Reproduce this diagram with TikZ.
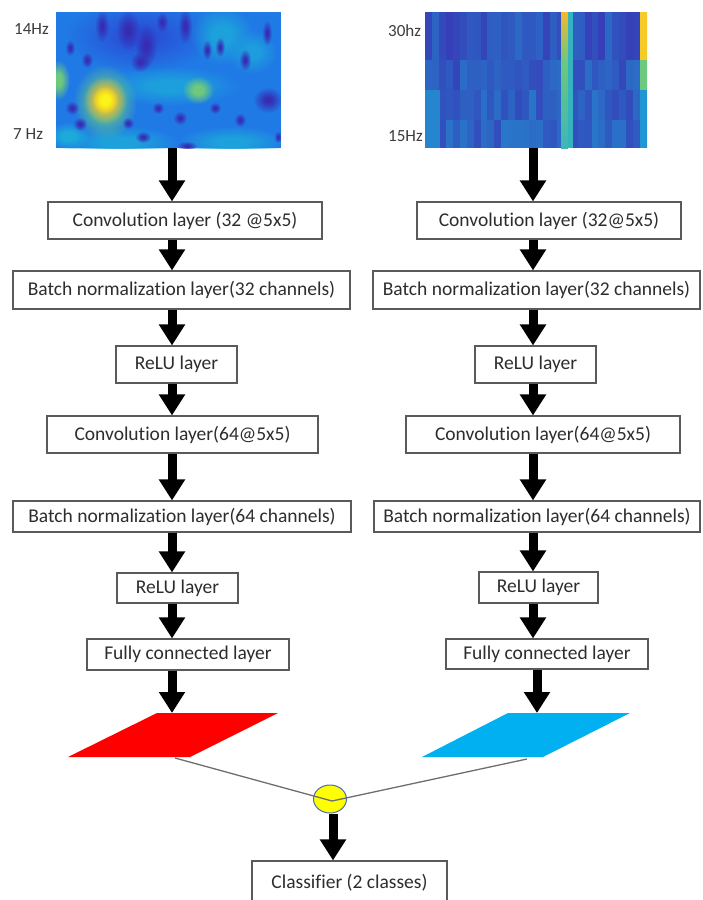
\documentclass[tikz,border=0pt]{standalone}
\usepackage{fontspec}
\setmainfont{Carlito}[Ligatures=NoCommon]
\usetikzlibrary{arrows.meta,shapes.geometric,fadings}
\definecolor{boxgray}{RGB}{90,90,90}
\definecolor{txt}{RGB}{45,45,45}
\definecolor{lbltxt}{RGB}{60,60,60}
\definecolor{sbase}{RGB}{32,122,230}
\definecolor{pdark}{RGB}{58,45,178}
\definecolor{pspot}{RGB}{55,45,180}
\definecolor{pmid}{RGB}{42,80,215}
\definecolor{pcyan}{RGB}{28,170,218}
\definecolor{pgreen}{RGB}{110,200,125}
\definecolor{porange}{RGB}{245,185,45}
\definecolor{pyellow}{RGB}{250,245,25}
\definecolor{fcred}{RGB}{255,0,0}
\definecolor{fcblue}{RGB}{0,176,240}
\definecolor{mixyellow}{RGB}{255,255,0}
\definecolor{mixedge}{RGB}{70,110,170}
\definecolor{linkgray}{RGB}{110,110,110}
\pgfdeclareradialshading{fzshade}{\pgfpointorigin}{color(0bp)=(white); color(8bp)=(white); color(25bp)=(black); color(50bp)=(black)}
\pgfdeclarefading{fuzzy}{\pgfuseshading{fzshade}}
\pgfdeclareradialshading{sfshade}{\pgfpointorigin}{color(0bp)=(white); color(5bp)=(white); color(25bp)=(black); color(50bp)=(black)}
\pgfdeclarefading{softfz}{\pgfuseshading{sfshade}}
\newcommand\blob[5]{\fill[#5, path fading=fuzzy] (#1,#2) ellipse [x radius=#3, y radius=#4];}
\newcommand\spot[5]{\fill[#5, path fading=softfz] (#1,#2) ellipse [x radius=#3, y radius=#4];}
\newcommand\boxfont{\fontsize{19.5}{22}\selectfont}
\newcommand\lblfont{\fontsize{17}{19}\selectfont}
\tikzset{
  layer/.style={draw=boxgray, line width=1.1pt, fill=white, inner sep=0pt, font=\boxfont, text=txt},
  bigarrow/.style={draw=black, line width=9pt, -{Triangle[width=25pt,length=21pt]}},
  freq/.style={font=\lblfont, text=lbltxt, inner sep=0pt},
  link/.style={draw=linkgray, line width=1.3pt}
}
\begin{document}
\begin{tikzpicture}[x=1pt,y=-1pt]
\useasboundingbox (0,0) rectangle (702,900);
% ---------- left spectrogram ----------
\node[inner sep=0pt, minimum width=225, minimum height=136] (imgL) at (168.5,80) {};
\begin{scope}
\clip (56,12) rectangle (281,148);
\fill[sbase] (56,12) rectangle (281,148);
\spot{140}{36}{75}{36}{pmid}
\blob{222}{35}{32}{30}{pcyan!80!sbase}
\blob{252}{52}{25}{22}{pcyan!70!sbase}
\blob{170}{86}{70}{20}{pcyan!75!sbase}
\blob{120}{142}{60}{16}{pcyan!80!sbase}
\blob{232}{142}{55}{16}{pcyan!80!sbase}
\blob{68}{136}{22}{14}{pcyan}
\blob{58}{80}{12}{20}{pgreen}
\blob{198}{90}{16}{14}{pgreen}
\blob{105}{102}{32}{38}{pgreen!80!pcyan}
\blob{105}{100}{22}{24}{porange}
\blob{105}{100}{13}{14}{pyellow}
\spot{102}{26}{7}{16}{pspot}
\spot{128}{30}{12}{20}{pspot}
\spot{146}{46}{11}{22}{pspot}
\spot{140}{62}{10}{10}{pspot}
\spot{162}{22}{6}{10}{pspot}
\spot{185}{26}{7}{18}{pspot}
\spot{207}{50}{5}{10}{pspot}
\spot{220}{47}{5}{10}{pspot}
\spot{245}{60}{6}{11}{pspot}
\spot{267}{33}{5}{13}{pspot}
\spot{268}{100}{15}{13}{pspot}
\spot{72}{108}{7}{7}{pspot}
\spot{80}{124}{7}{7}{pspot}
\spot{70}{48}{5}{8}{pspot}
\spot{87}{60}{6}{8}{pspot}
\spot{158}{108}{6}{6}{pspot}
\spot{180}{118}{7}{7}{pspot}
\spot{215}{108}{6}{6}{pspot}
\spot{240}{120}{6}{7}{pspot}
\spot{143}{137}{8}{6}{pspot}
\spot{128}{123}{6}{6}{pspot}
\spot{187}{146}{10}{5}{pspot}
\spot{278}{137}{4}{6}{pspot}
\end{scope}
\node[freq, anchor=west] (f14) at (14,29) {14Hz};
\node[freq, anchor=west] (f7) at (13,134) {7 Hz};
% ---------- right spectrogram ----------
\node[inner sep=0pt, minimum width=222, minimum height=136] (imgR) at (536,80) {};
\begin{scope}
\clip (425,12) rectangle (647,148);
\pgfmathsetseed{7}
\foreach \i in {0,...,31}{
  \foreach \j/\ya/\yb in {0/12/60,1/60/90,2/90/120,3/120/148}{
    \pgfmathsetmacro\xa{425+6.9375*\i}
    \pgfmathsetmacro\xb{\xa+7.3}
    \pgfmathrandominteger{\m}{14}{48}
    \pgfmathtruncatemacro\mm{min(100,\m+\j*4)}
    \fill[pcyan!\mm!pdark] (\xa,\ya) rectangle (\xb,\yb);
  }
}
\fill[pcyan!70!pdark] (425,90) rectangle (440,148);
\shade[top color=porange, bottom color=pgreen] (561,12) rectangle (568,60);
\shade[top color=pgreen, bottom color=pcyan!60!pgreen] (561,60) rectangle (568,148);
\fill[pcyan!70!pgreen] (568,12) rectangle (573,148);
\fill[porange!70!pyellow] (640,12) rectangle (648,60);
\fill[pgreen] (640,60) rectangle (648,90);
\fill[pcyan!85!pdark] (640,90) rectangle (648,148);
\end{scope}
\node[freq, anchor=west] (f30) at (388,31) {30hz};
\node[freq, anchor=west] (f15) at (388,136) {15Hz};
% ---------- axes for arrows ----------
\coordinate (axL) at (172,0);
\coordinate (axR) at (533,0);
% ---------- left column ----------
\node[layer, minimum width=274, minimum height=37] (c1L) at (185,220.5) {Convolution layer (32 @5x5)};
\node[layer, minimum width=337, minimum height=38] (b1L) at (181.5,290) {Batch normalization layer(32 channels)};
\node[layer, minimum width=121, minimum height=37] (r1L) at (176.5,364.5) {ReLU layer};
\node[layer, minimum width=271, minimum height=37] (c2L) at (182.5,434.5) {Convolution layer(64@5x5)};
\node[layer, minimum width=338, minimum height=31] (b2L) at (182,516.5) {Batch normalization layer(64 channels)};
\node[layer, minimum width=121, minimum height=30] (r2L) at (177.5,588) {ReLU layer};
\node[layer, minimum width=202, minimum height=31] (fcL) at (188,654.5) {Fully connected layer};
% ---------- right column ----------
\node[layer, minimum width=264, minimum height=37] (c1R) at (549,220.5) {Convolution layer (32@5x5)};
\node[layer, minimum width=327, minimum height=38] (b1R) at (536.5,290) {Batch normalization layer(32 channels)};
\node[layer, minimum width=121, minimum height=37] (r1R) at (535.5,364.5) {ReLU layer};
\node[layer, minimum width=274, minimum height=37] (c2R) at (543,434.5) {Convolution layer(64@5x5)};
\node[layer, minimum width=326, minimum height=31] (b2R) at (537,516.5) {Batch normalization layer(64 channels)};
\node[layer, minimum width=119, minimum height=31] (r2R) at (538.5,587.5) {ReLU layer};
\node[layer, minimum width=202, minimum height=30] (fcR) at (547,654) {Fully connected layer};
% ---------- arrows ----------
\foreach \s/\t in {imgL/c1L, c1L/b1L, b1L/r1L, r1L/c2L, c2L/b2L, b2L/r2L, r2L/fcL}
  \draw[bigarrow] (\s.south -| axL) -- (\t.north -| axL);
\foreach \s/\t in {imgR/c1R, c1R/b1R, b1R/r1R, r1R/c2R, c2R/b2R, b2R/r2R, r2R/fcR}
  \draw[bigarrow] (\s.south -| axR) -- (\t.north -| axR);
% ---------- feature planes ----------
\fill[fcred] (68,757) -- (190,757) -- (278,713) -- (157,713) -- cycle;
\fill[fcblue] (422,757) -- (543,757) -- (630,713) -- (508,713) -- cycle;
\coordinate (pL) at (172,713);
\coordinate (pR) at (537,713);
\draw[bigarrow] (fcL.south -| pL) -- (pL);
\draw[bigarrow] (fcR.south -| pR) -- (pR);
% ---------- fusion ----------
\coordinate (oL) at (175,758);
\coordinate (oR) at (527,759);
\node[ellipse, draw=mixedge, line width=1pt, fill=mixyellow, minimum width=33, minimum height=28, inner sep=0pt] (mix) at (330,799) {};
\coordinate (jn) at (332,801);
\draw[link] (oL) -- (jn) -- (oR);
\node[layer, minimum width=195, minimum height=44] (cls) at (349.5,883) {Classifier (2 classes)};
\coordinate (axC) at (333,0);
\draw[bigarrow] (mix.south -| axC) -- (cls.north -| axC);
\end{tikzpicture}
\end{document}
